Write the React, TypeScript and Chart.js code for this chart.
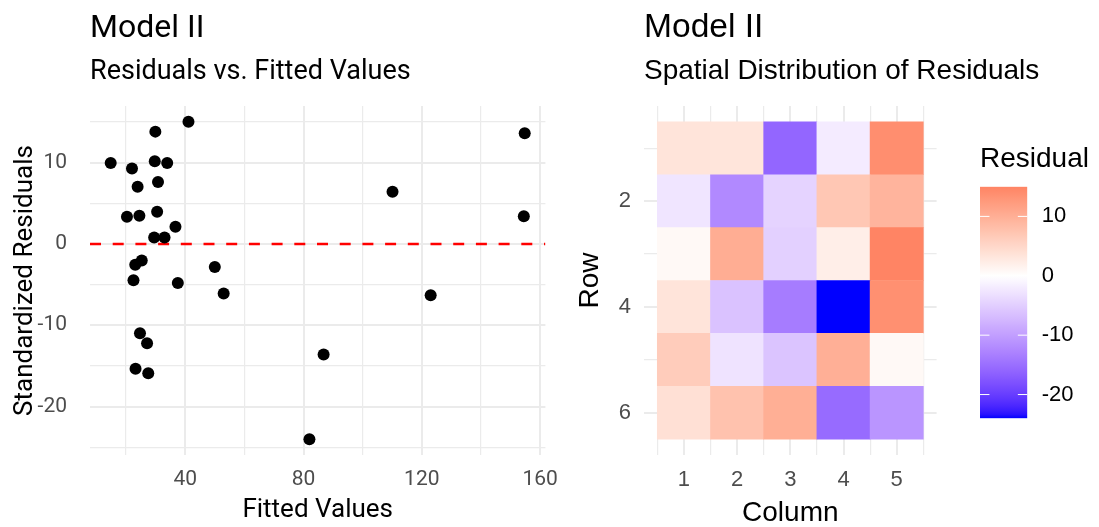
import React, { useEffect, useRef } from "react";
import { Chart, registerables } from "chart.js";

Chart.register(...registerables);

// ---------------- data ----------------
const fittedValues = [
  14.8, 22.0, 23.9, 20.3, 24.5, 29.9, 29.7, 33.9, 30.8, 30.5,
  41.1, 36.7, 29.5, 33.0, 25.3, 23.1, 22.5, 37.5, 50.0, 53.0,
  154.8, 110.1, 154.5, 123.0, 24.7, 27.1, 23.2, 27.5, 86.8, 82.0,
];
const standardizedResiduals = [
  9.95, 9.27, 7.03, 3.33, 3.45, 13.8, 10.16, 9.95, 7.6, 3.94,
  15.0, 2.11, 0.8, 0.8, -2.04, -2.56, -4.48, -4.8, -2.85, -6.1,
  13.6, 6.42, 3.41, -6.3, -10.98, -12.2, -15.35, -15.9, -13.6, -24.0,
];
const referenceLineY = 0;

const xMajorTicks = [40, 80, 120, 160];
const xMinorTicks = [20, 60, 100, 140];
const yMajorTicks = [-20, -10, 0, 10];
const yMinorTicks = [-25, -15, -5, 5, 15];

const gridColumns = [1, 2, 3, 4, 5];
const gridRows = [1, 2, 3, 4, 5, 6];
const row1Residuals = [3.4, 3.3, -15.9, -2.0, 13.8];
const row2Residuals = [-2.6, -12.2, -4.5, 7.0, 9.3];
const row3Residuals = [0.8, 10.2, -4.8, 2.1, 15.0];
const row4Residuals = [3.4, -6.3, -13.6, -24.0, 13.6];
const row5Residuals = [6.4, -2.9, -6.1, 9.9, 0.8];
const row6Residuals = [3.9, 7.6, 10.0, -15.4, -11.0];
const residualGrid = [row1Residuals, row2Residuals, row3Residuals, row4Residuals, row5Residuals, row6Residuals];

const columnMajorTicks = [1, 2, 3, 4, 5];
const columnMinorTicks = [0.5, 1.5, 2.5, 3.5, 4.5, 5.5];
const rowMajorTicks = [2, 4, 6];
const rowMinorTicks = [1, 3, 5];
const legendTicks = [-20, -10, 0, 10];

// ---------------- colour scale (Lab interpolation, like ggplot gradient2) ----------------
function srgbToLinear(c: number) {
  const v = c / 255;
  return v <= 0.04045 ? v / 12.92 : Math.pow((v + 0.055) / 1.055, 2.4);
}
function linearToSrgb(c: number) {
  const v = c <= 0.0031308 ? 12.92 * c : 1.055 * Math.pow(c, 1 / 2.4) - 0.055;
  return Math.round(Math.max(0, Math.min(1, v)) * 255);
}
const WX = 0.95047, WY = 1.0, WZ = 1.08883;
function toLab(rgb: number[]) {
  const R = srgbToLinear(rgb[0]), G = srgbToLinear(rgb[1]), B = srgbToLinear(rgb[2]);
  const X = (0.4124564 * R + 0.3575761 * G + 0.1804375 * B) / WX;
  const Y = (0.2126729 * R + 0.7151522 * G + 0.072175 * B) / WY;
  const Z = (0.0193339 * R + 0.119192 * G + 0.9503041 * B) / WZ;
  const f = (t: number) => (t > 0.008856 ? Math.cbrt(t) : 7.787 * t + 16 / 116);
  const fx = f(X), fy = f(Y), fz = f(Z);
  return [116 * fy - 16, 500 * (fx - fy), 200 * (fy - fz)];
}
function fromLab(lab: number[]) {
  const fy = (lab[0] + 16) / 116;
  const fx = fy + lab[1] / 500;
  const fz = fy - lab[2] / 200;
  const inv = (t: number) => (t * t * t > 0.008856 ? t * t * t : (t - 16 / 116) / 7.787);
  const X = inv(fx) * WX, Y = inv(fy) * WY, Z = inv(fz) * WZ;
  const R = 3.2404542 * X - 1.5371385 * Y - 0.4985314 * Z;
  const G = -0.969266 * X + 1.8760108 * Y + 0.041556 * Z;
  const B = 0.0556434 * X - 0.2040259 * Y + 1.0572252 * Z;
  return `rgb(${linearToSrgb(R)},${linearToSrgb(G)},${linearToSrgb(B)})`;
}
const labLow = toLab([0, 0, 255]);
const labMid = toLab([255, 255, 255]);
const labHigh = toLab([255, 0, 0]);
const allCellValues = residualGrid.flat();
const colourLimit = Math.max(...allCellValues.map((v) => Math.abs(v)));
const legendMin = Math.min(...allCellValues);
const legendMax = Math.max(...allCellValues);
function residualColour(v: number) {
  const t = Math.max(-1, Math.min(1, v / colourLimit));
  const target = t < 0 ? labLow : labHigh;
  const f = Math.abs(t);
  return fromLab(labMid.map((m, i) => m + (target[i] - m) * f));
}

// ---------------- helpers ----------------
const GRID = "#EBEBEB";
const TICK_GREY = "#4D4D4D";
const LEFT_FONT = "Roboto";
const RIGHT_FONT = "'Liberation Sans', Arial, sans-serif";

function expandRange(values: number[], mult = 0.05) {
  const mn = Math.min(...values), mx = Math.max(...values);
  const pad = (mx - mn) * mult;
  return [mn - pad, mx + pad];
}

type TitleLine = { text: string; font: string; y: number };
function makeTitlePlugin(id: string, lines: TitleLine[]) {
  return {
    id,
    afterDraw(chart: any) {
      const { ctx, chartArea } = chart;
      ctx.save();
      ctx.textAlign = "left";
      ctx.textBaseline = "alphabetic";
      ctx.fillStyle = "#000";
      for (const l of lines) {
        ctx.font = l.font;
        ctx.fillText(l.text, chartArea.left, l.y);
      }
      ctx.restore();
    },
  };
}

const colourbarTickPlugin = {
  id: "colourbarTicks",
  afterDatasetsDraw(chart: any) {
    const { ctx, chartArea, scales } = chart;
    const y = scales.y;
    const len = (chartArea.right - chartArea.left) / 5;
    ctx.save();
    ctx.strokeStyle = "#FFFFFF";
    ctx.lineWidth = 1;
    for (const v of legendTicks) {
      const py = y.getPixelForValue(v);
      ctx.beginPath();
      ctx.moveTo(chartArea.left, py);
      ctx.lineTo(chartArea.left + len, py);
      ctx.moveTo(chartArea.right - len, py);
      ctx.lineTo(chartArea.right, py);
      ctx.stroke();
    }
    ctx.restore();
  },
};

export default function App() {
  const leftRef = useRef<HTMLCanvasElement>(null);
  const heatRef = useRef<HTMLCanvasElement>(null);
  const legendRef = useRef<HTMLCanvasElement>(null);

  useEffect(() => {
    const [xMin, xMax] = expandRange(fittedValues);
    const [yMin, yMax] = expandRange(standardizedResiduals);
    const points = fittedValues.map((x, i) => ({ x, y: standardizedResiduals[i] }));

    const left = new Chart(leftRef.current!, {
      type: "scatter",
      data: {
        datasets: [
          {
            type: "line",
            data: [
              { x: xMin, y: referenceLineY },
              { x: xMax, y: referenceLineY },
            ],
            borderColor: "#FF0000",
            borderWidth: 2.5,
            borderDash: [11, 11.7],
            pointRadius: 0,
            fill: false,
            tension: 0,
            order: 1,
          } as any,
          {
            type: "scatter",
            data: points,
            backgroundColor: "#000000",
            borderWidth: 0,
            pointRadius: 6,
            order: 0,
          } as any,
        ],
      },
      options: {
        animation: false,
        responsive: false,
        events: [],
        layout: { padding: { left: 0, right: 18, top: 106, bottom: 0 } },
        plugins: { legend: { display: false }, tooltip: { enabled: false } },
        scales: {
          x: {
            type: "linear",
            min: xMin,
            max: xMax,
            afterBuildTicks: (s: any) => {
              s.ticks = [...xMinorTicks, ...xMajorTicks].sort((a, b) => a - b).map((v) => ({ value: v }));
            },
            afterFit: (s: any) => {
              s.height = 72;
            },
            ticks: {
              autoSkip: false,
              maxRotation: 0,
              padding: 12,
              color: TICK_GREY,
              font: { family: LEFT_FONT, size: 21 },
              callback: (v: any) => (xMajorTicks.includes(Number(v)) ? String(v) : ""),
            },
            grid: {
              color: GRID,
              drawTicks: false,
              lineWidth: (c: any) => (xMajorTicks.includes(c.tick?.value) ? 2 : 1.2),
            },
            border: { display: false },
            title: {
              display: true,
              text: "Fitted Values",
              color: "#000",
              font: { family: LEFT_FONT, size: 26, lineHeight: 1 },
              padding: { top: 0, bottom: 4 },
            },
          },
          y: {
            type: "linear",
            min: yMin,
            max: yMax,
            afterBuildTicks: (s: any) => {
              s.ticks = [...yMinorTicks, ...yMajorTicks].sort((a, b) => a - b).map((v) => ({ value: v }));
            },
            afterFit: (s: any) => {
              s.width = 90;
            },
            ticks: {
              autoSkip: false,
              padding: 23,
              color: TICK_GREY,
              font: { family: LEFT_FONT, size: 21 },
              callback: (v: any) => (yMajorTicks.includes(Number(v)) ? String(v) : ""),
            },
            grid: {
              color: GRID,
              drawTicks: false,
              lineWidth: (c: any) => (yMajorTicks.includes(c.tick?.value) ? 2 : 1.2),
            },
            border: { display: false },
            title: {
              display: true,
              text: "Standardized Residuals",
              color: "#000",
              font: { family: LEFT_FONT, size: 26, lineHeight: 1 },
              padding: { top: 12, bottom: 0 },
            },
          },
        },
      },
      plugins: [
        makeTitlePlugin("leftTitles", [
          { text: "Model II", font: `32px ${LEFT_FONT}`, y: 37.3 },
          { text: "Residuals vs. Fitted Values", font: `27px ${LEFT_FONT}`, y: 79 },
        ]),
      ],
    } as any);

    // ---------- heatmap ----------
    const cells: { x: number; y: number[]; v: number }[] = [];
    gridRows.forEach((r, ri) => {
      gridColumns.forEach((c, ci) => {
        const v = residualGrid[ri][ci];
        cells.push({ x: c, y: [r - 0.5, r + 0.5], v });
      });
    });
    const colMin = Math.min(...gridColumns) - 0.5, colMax = Math.max(...gridColumns) + 0.5;
    const rowMin = Math.min(...gridRows) - 0.5, rowMax = Math.max(...gridRows) + 0.5;
    const [cx0, cx1] = expandRange([colMin, colMax]);
    const [ry0, ry1] = expandRange([rowMin, rowMax]);

    const heat = new Chart(heatRef.current!, {
      type: "bar",
      data: {
        datasets: [
          {
            data: cells.map((c) => ({ x: c.x, y: c.y })),
            backgroundColor: cells.map((c) => residualColour(c.v)),
            borderWidth: 0,
            barPercentage: 1,
            categoryPercentage: 1,
            xAxisID: "x",
            yAxisID: "y",
          } as any,
        ],
      },
      options: {
        animation: false,
        responsive: false,
        events: [],
        layout: { padding: { left: 0, right: 162.4, top: 106, bottom: 0 } },
        plugins: { legend: { display: false }, tooltip: { enabled: false } },
        scales: {
          x: {
            type: "linear",
            position: "bottom",
            offset: false,
            min: cx0,
            max: cx1,
            afterBuildTicks: (s: any) => {
              s.ticks = columnMajorTicks.map((v) => ({ value: v }));
            },
            afterFit: (s: any) => {
              s.height = 72;
            },
            ticks: {
              autoSkip: false,
              maxRotation: 0,
              padding: 12,
              color: TICK_GREY,
              font: { family: RIGHT_FONT, size: 22 },
              callback: (v: any) => String(v),
            },
            grid: { color: GRID, drawTicks: false, lineWidth: 2, offset: false },
            border: { display: false },
            title: {
              display: true,
              text: "Column",
              color: "#000",
              font: { family: RIGHT_FONT, size: 28, lineHeight: 1 },
              padding: { top: 0, bottom: 0 },
            },
          },
          x2: {
            type: "linear",
            position: "bottom",
            offset: false,
            min: cx0,
            max: cx1,
            afterBuildTicks: (s: any) => {
              s.ticks = columnMinorTicks.map((v) => ({ value: v }));
            },
            afterFit: (s: any) => {
              s.height = 0;
            },
            ticks: { display: false },
            grid: { color: GRID, drawTicks: false, lineWidth: 1.2, offset: false },
            border: { display: false },
          },
          y: {
            type: "linear",
            reverse: true,
            min: ry0,
            max: ry1,
            afterBuildTicks: (s: any) => {
              s.ticks = [...rowMinorTicks, ...rowMajorTicks].sort((a, b) => a - b).map((v) => ({ value: v }));
            },
            afterFit: (s: any) => {
              s.width = 74;
            },
            ticks: {
              autoSkip: false,
              padding: 13,
              color: TICK_GREY,
              font: { family: RIGHT_FONT, size: 22 },
              callback: (v: any) => (rowMajorTicks.includes(Number(v)) ? String(v) : ""),
            },
            grid: {
              color: GRID,
              drawTicks: false,
              lineWidth: (c: any) => (rowMajorTicks.includes(c.tick?.value) ? 2 : 1.2),
            },
            border: { display: false },
            title: {
              display: true,
              text: "Row",
              color: "#000",
              font: { family: RIGHT_FONT, size: 28, lineHeight: 1 },
              padding: { top: 6, bottom: 0 },
            },
          },
        },
      },
      plugins: [
        makeTitlePlugin("rightTitles", [
          { text: "Model II", font: `33.6px ${RIGHT_FONT}`, y: 37.3 },
          { text: "Spatial Distribution of Residuals", font: `28px ${RIGHT_FONT}`, y: 79 },
        ]),
      ],
    } as any);

    // ---------- colour bar legend ----------
    const legend = new Chart(legendRef.current!, {
      type: "bar",
      data: {
        labels: [""],
        datasets: [
          {
            data: [[legendMin, legendMax]],
            backgroundColor: (c: any) => {
              const chart = c.chart;
              if (!chart.chartArea) return "rgba(0,0,0,0)";
              const ys = chart.scales.y;
              const p0 = ys.getPixelForValue(legendMin);
              const p1 = ys.getPixelForValue(legendMax);
              const g = chart.ctx.createLinearGradient(0, p0, 0, p1);
              const n = 60;
              for (let i = 0; i <= n; i++) {
                const v = legendMin + ((legendMax - legendMin) * i) / n;
                g.addColorStop(i / n, residualColour(v));
              }
              return g;
            },
            borderWidth: 0,
            barPercentage: 1,
            categoryPercentage: 1,
          } as any,
        ],
      },
      options: {
        animation: false,
        responsive: false,
        events: [],
        layout: { padding: { left: 30, right: 0, top: 186.7, bottom: 108.7 } },
        plugins: { legend: { display: false }, tooltip: { enabled: false } },
        scales: {
          x: { type: "category", display: false },
          y: {
            type: "linear",
            position: "right",
            min: legendMin,
            max: legendMax,
            afterBuildTicks: (s: any) => {
              s.ticks = legendTicks.map((v) => ({ value: v }));
            },
            afterFit: (s: any) => {
              s.width = 71.7;
            },
            ticks: {
              autoSkip: false,
              padding: 14.4,
              color: "#000",
              font: { family: RIGHT_FONT, size: 22 },
              callback: (v: any) => String(v),
            },
            grid: { display: false, drawTicks: false },
            border: { display: false },
          },
        },
      },
      plugins: [
        colourbarTickPlugin,
        makeTitlePlugin("legendTitle", [{ text: "Residual", font: `28px ${RIGHT_FONT}`, y: 167.3 }]),
      ],
    } as any);

    return () => {
      left.destroy();
      heat.destroy();
      legend.destroy();
    };
  }, []);

  return (
    <div
      style={{
        position: "fixed",
        left: 0,
        top: 0,
        width: 1099,
        height: 527,
        background: "#ffffff",
        overflow: "hidden",
      }}
    >
      <canvas ref={leftRef} width={570} height={527} style={{ position: "absolute", left: 0, top: 0, width: 570, height: 527 }} />
      <canvas ref={heatRef} width={529} height={527} style={{ position: "absolute", left: 570, top: 0, width: 529, height: 527 }} />
      <canvas ref={legendRef} width={149} height={527} style={{ position: "absolute", left: 950, top: 0, width: 149, height: 527 }} />
    </div>
  );
}
